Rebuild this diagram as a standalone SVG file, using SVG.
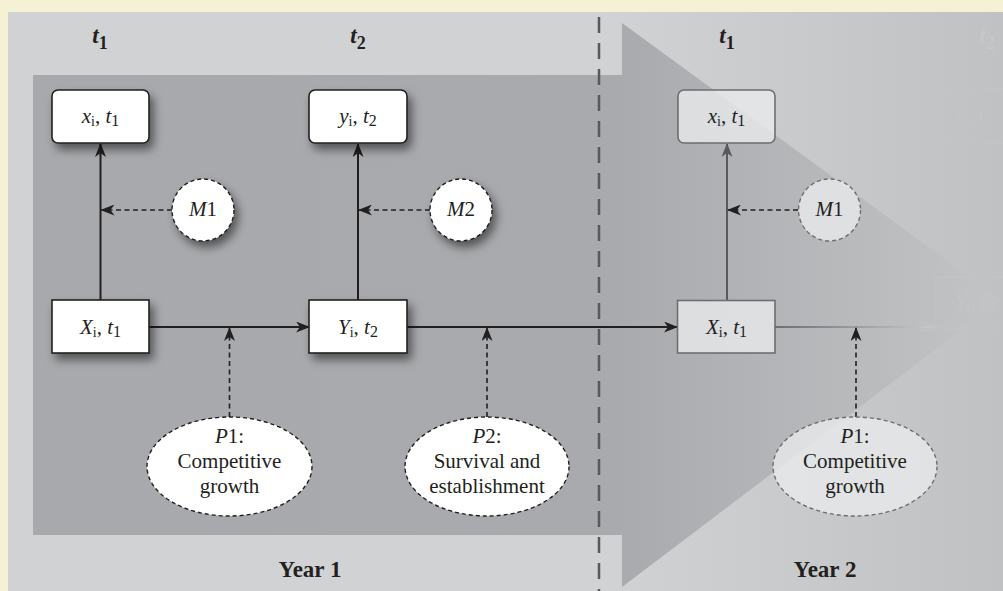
<svg xmlns="http://www.w3.org/2000/svg" width="1003" height="591" viewBox="0 0 1003 591">
<style>
.lbl{font-family:"Liberation Serif","Times New Roman",serif;font-size:21px;fill:#231f20}
.hdr{font-family:"Liberation Serif","Times New Roman",serif;font-size:23px;font-weight:bold;fill:#231f20}
.it{font-style:italic}
.box{fill:#ffffff;stroke:#231f20;stroke-width:1.6}
.box2{fill:#e9eaeb;fill-opacity:0.8;stroke:#6d6e71;stroke-width:1.6}
.dnode{fill:#ffffff;stroke:#231f20;stroke-width:1.4;stroke-dasharray:4 3}
.dnode2{fill:#e9eaeb;fill-opacity:0.8;stroke:#6d6e71;stroke-width:1.4;stroke-dasharray:4 3}
.solid{stroke:#231f20;stroke-width:2;fill:none;marker-end:url(#ah)}
.dash{stroke:#231f20;stroke-width:1.6;fill:none;stroke-dasharray:5 3.5;marker-end:url(#ah)}
.ghost{fill:none;stroke:#c6c7c9;stroke-width:1.2}
</style>
<defs>
<marker id="ah" markerUnits="userSpaceOnUse" markerWidth="14" markerHeight="11" refX="13" refY="5.5" orient="auto" viewBox="0 0 14 11"><path d="M0,0 L14,5.5 L0,11 L4,5.5 z" fill="#231f20"/></marker>
<marker id="ahg" markerUnits="userSpaceOnUse" markerWidth="14" markerHeight="11" refX="13" refY="5.5" orient="auto" viewBox="0 0 14 11"><path d="M0,0 L14,5.5 L0,11 L4,5.5 z" fill="#58595b"/></marker>
<filter id="sh" x="-30%" y="-30%" width="170%" height="180%"><feDropShadow dx="4" dy="6" stdDeviation="5" flood-color="#000" flood-opacity="0.5"/></filter>
<linearGradient id="panel" gradientUnits="userSpaceOnUse" x1="8" y1="0" x2="1003" y2="0"><stop offset="0" stop-color="#d1d2d4"/><stop offset="0.6" stop-color="#d1d2d4"/><stop offset="1" stop-color="#c0c1c3"/></linearGradient>
<linearGradient id="dark" gradientUnits="userSpaceOnUse" x1="33" y1="0" x2="1003" y2="0"><stop offset="0" stop-color="#a7a9ac"/><stop offset="0.6" stop-color="#a8aaad"/><stop offset="1" stop-color="#c3c4c6"/></linearGradient>
<linearGradient id="fade" gradientUnits="userSpaceOnUse" x1="775" y1="0" x2="935" y2="0"><stop offset="0" stop-color="#6d6e71"/><stop offset="1" stop-color="#c9cacc"/></linearGradient>
</defs>

<rect x="0" y="0" width="1003" height="591" fill="#f4f1d4"/>
<rect x="8" y="12" width="995" height="579" fill="url(#panel)"/>
<polygon points="33,75 622,75 622,23 1001,300 622,587 622,535 33,535" fill="url(#dark)"/>
<line x1="599" y1="17" x2="599" y2="591" stroke="#58595b" stroke-width="2.5" stroke-dasharray="16 10"/>

<g id="headers">
<text class="hdr" x="100" y="43" text-anchor="middle"><tspan class="it">t</tspan><tspan dy="6" font-size="18">1</tspan></text>
<text class="hdr" x="358" y="43" text-anchor="middle"><tspan class="it">t</tspan><tspan dy="6" font-size="18">2</tspan></text>
<text class="hdr" x="727" y="43" text-anchor="middle"><tspan class="it">t</tspan><tspan dy="6" font-size="18">1</tspan></text>
<text class="hdr" x="987" y="43" text-anchor="middle" style="fill:#c7c8ca"><tspan class="it">t</tspan><tspan dy="6" font-size="18">2</tspan></text>
<text class="hdr" x="310" y="577" text-anchor="middle">Year 1</text>
<text class="hdr" x="825" y="577" text-anchor="middle">Year 2</text>
</g>

<g id="ghosts" opacity="0.6">
<rect class="ghost" x="935" y="89" width="80" height="54" rx="6"/>
<rect class="ghost" x="936" y="277" width="80" height="51"/>
<text class="lbl" x="955" y="121" style="fill:#c6c7c9"><tspan class="it">y</tspan><tspan dy="3" font-size="14">i</tspan><tspan dy="-3">, </tspan><tspan class="it">t</tspan><tspan dy="3" font-size="16">2</tspan></text>
<text class="lbl" x="955" y="308" style="fill:#c6c7c9"><tspan class="it">Y</tspan><tspan dy="3" font-size="14">i</tspan><tspan dy="-3">, </tspan><tspan class="it">t</tspan><tspan dy="3" font-size="16">2</tspan></text>
</g>

<g id="connectors">
<line class="solid" x1="100.5" y1="300" x2="100.5" y2="144"/>
<line class="dash" x1="172" y1="210" x2="101.5" y2="210"/>
<line class="solid" x1="149" y1="327" x2="309" y2="327"/>
<line class="dash" x1="229.5" y1="417" x2="229.5" y2="328"/>
<line class="solid" x1="358" y1="300" x2="358" y2="144"/>
<line class="dash" x1="430" y1="210" x2="359" y2="210"/>
<line class="solid" x1="407" y1="327" x2="677" y2="327"/>
<line class="dash" x1="487" y1="417" x2="487" y2="328"/>
<line x1="727" y1="300" x2="727" y2="144" stroke="#58595b" stroke-width="2" marker-end="url(#ahg)"/>
<line class="dash" x1="798" y1="210" x2="728" y2="210"/>
<line x1="775" y1="327" x2="935" y2="327" stroke="url(#fade)" stroke-width="2"/>
<path d="M921,322 L935,327 L921,332 L924,327 z" fill="none" stroke="#c3c4c6" stroke-width="1"/>
<line class="dash" x1="856" y1="417" x2="856" y2="328"/>
</g>

<g id="node-x1">
<rect class="box" x="52" y="90" width="97" height="53" rx="6" filter="url(#sh)"/>
<text class="lbl" x="100.5" y="123" text-anchor="middle"><tspan class="it">x</tspan><tspan dy="3" font-size="14">i</tspan><tspan dy="-3">, </tspan><tspan class="it">t</tspan><tspan dy="3" font-size="16">1</tspan></text>
</g>
<g id="node-y2">
<rect class="box" x="309" y="90" width="98" height="53" rx="6" filter="url(#sh)"/>
<text class="lbl" x="358" y="123" text-anchor="middle"><tspan class="it">y</tspan><tspan dy="3" font-size="14">i</tspan><tspan dy="-3">, </tspan><tspan class="it">t</tspan><tspan dy="3" font-size="16">2</tspan></text>
</g>
<g id="node-X1">
<rect class="box" x="52" y="300" width="97" height="53" filter="url(#sh)"/>
<text class="lbl" x="100.5" y="334" text-anchor="middle"><tspan class="it">X</tspan><tspan dy="3" font-size="14">i</tspan><tspan dy="-3">, </tspan><tspan class="it">t</tspan><tspan dy="3" font-size="16">1</tspan></text>
</g>
<g id="node-Y2">
<rect class="box" x="309" y="300" width="98" height="53" filter="url(#sh)"/>
<text class="lbl" x="358" y="334" text-anchor="middle"><tspan class="it">Y</tspan><tspan dy="3" font-size="14">i</tspan><tspan dy="-3">, </tspan><tspan class="it">t</tspan><tspan dy="3" font-size="16">2</tspan></text>
</g>
<g id="node-M1">
<circle class="dnode" cx="203" cy="210" r="31" filter="url(#sh)"/>
<text class="lbl" x="203" y="216" text-anchor="middle" font-size="20"><tspan class="it">M</tspan>1</text>
</g>
<g id="node-M2">
<circle class="dnode" cx="461" cy="210" r="31" filter="url(#sh)"/>
<text class="lbl" x="461" y="216" text-anchor="middle" font-size="20"><tspan class="it">M</tspan>2</text>
</g>
<g id="node-P1">
<ellipse class="dnode" cx="229.5" cy="466.5" rx="82.5" ry="49.5"/>
<text class="lbl" x="229.5" y="443" text-anchor="middle"><tspan class="it">P</tspan>1:</text>
<text class="lbl" x="229.5" y="468" text-anchor="middle">Competitive</text>
<text class="lbl" x="229.5" y="493" text-anchor="middle">growth</text>
</g>
<g id="node-P2">
<ellipse class="dnode" cx="487" cy="466.5" rx="82" ry="49.5"/>
<text class="lbl" x="487" y="443" text-anchor="middle"><tspan class="it">P</tspan>2:</text>
<text class="lbl" x="487" y="468" text-anchor="middle">Survival and</text>
<text class="lbl" x="487" y="493" text-anchor="middle">establishment</text>
</g>

<g id="node-x1-year2">
<rect class="box2" x="678" y="90" width="97" height="53" rx="6"/>
<text class="lbl" x="726.5" y="123" text-anchor="middle"><tspan class="it">x</tspan><tspan dy="3" font-size="14">i</tspan><tspan dy="-3">, </tspan><tspan class="it">t</tspan><tspan dy="3" font-size="16">1</tspan></text>
</g>
<g id="node-X1-year2">
<rect class="box2" x="677.5" y="300.5" width="97.5" height="52.5"/>
<text class="lbl" x="726.5" y="334" text-anchor="middle"><tspan class="it">X</tspan><tspan dy="3" font-size="14">i</tspan><tspan dy="-3">, </tspan><tspan class="it">t</tspan><tspan dy="3" font-size="16">1</tspan></text>
</g>
<g id="node-M1-year2">
<circle class="dnode2" cx="829.5" cy="210" r="31"/>
<text class="lbl" x="829.5" y="216" text-anchor="middle" font-size="20"><tspan class="it">M</tspan>1</text>
</g>
<g id="node-P1-year2">
<ellipse class="dnode2" cx="855" cy="466.5" rx="82" ry="49.5"/>
<text class="lbl" x="855" y="443" text-anchor="middle"><tspan class="it">P</tspan>1:</text>
<text class="lbl" x="855" y="468" text-anchor="middle">Competitive</text>
<text class="lbl" x="855" y="493" text-anchor="middle">growth</text>
</g>
</svg>
